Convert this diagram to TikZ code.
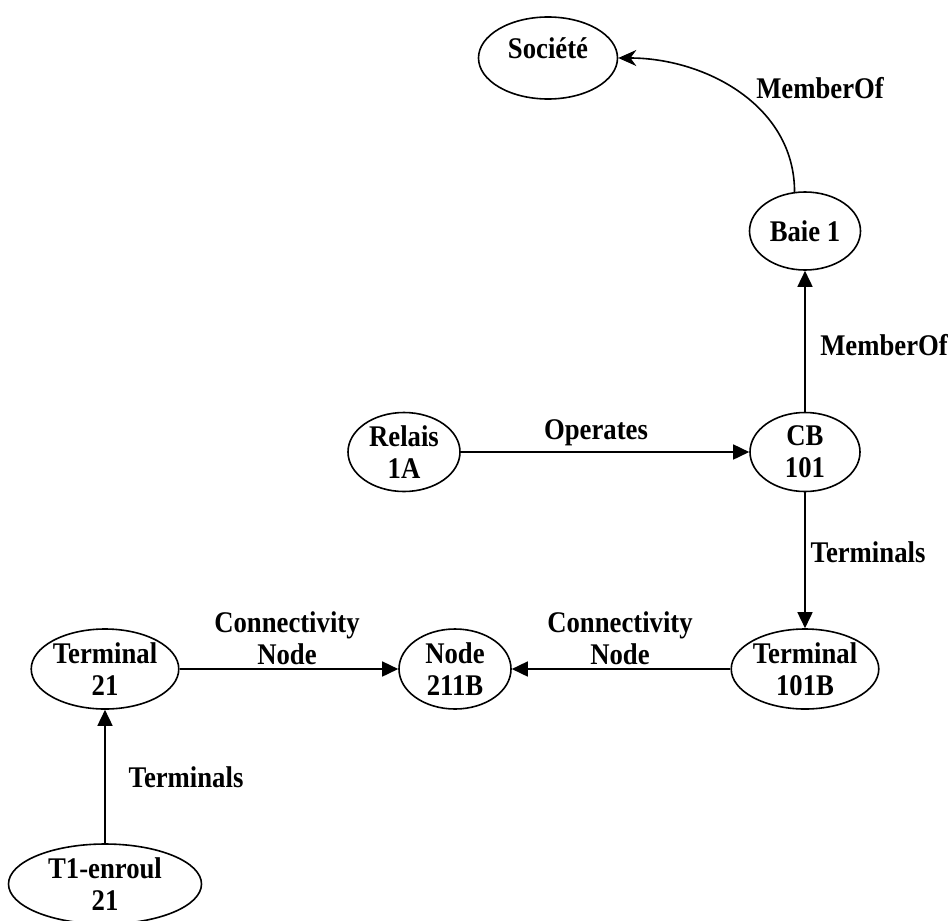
\documentclass[tikz,border=0pt]{standalone}
\usepackage{fontspec}
\setmainfont{Liberation Serif}[FakeStretch=0.89]
\usetikzlibrary{shapes.geometric,arrows.meta}

\tikzstyle{entity} = [draw, ellipse, line width=0.8pt, inner sep=0pt, align=center, font=\bfseries\fontsize{15}{16}\selectfont]
\tikzstyle{rel} = [align=center, font=\bfseries\fontsize{15}{16}\selectfont]
\tikzstyle{arrow} = [-{Triangle[length=8pt,width=7.5pt]}, line width=0.8pt]
\tikzstyle{curved} = [-{Stealth[length=9pt,width=8pt]}, line width=0.8pt]

\begin{document}
\begin{tikzpicture}[x=0.5pt, y=-0.5pt, ell/.style 2 args={minimum width=#1*0.5pt, minimum height=#2*0.5pt}]
  \useasboundingbox (0,0) rectangle (951,920);

  \node[entity, ell={139}{82}](societe) at (548,58) {Société\\[-6pt]\phantom{S}};
  \node[entity, ell={111}{78}](baie) at (805,231) {Baie 1};
  \node[entity, ell={110}{79}](cb) at (805,452) {CB\\101};
  \node[entity, ell={112}{79}](relais) at (404,452) {Relais\\1A};
  \node[entity, ell={138}{80}](term101) at (805,669) {Terminal\\101B};
  \node[entity, ell={112}{80}](node211) at (455,669) {Node\\211B};
  \node[entity, ell={141}{80}](term21) at (105,669) {Terminal\\21};
  \node[entity, ell={193}{80}](enroul) at (105,884) {T1-enroul\\21};

  \node[rel](member1) at (820,88) {MemberOf};
  \node[rel](member2) at (884,345) {MemberOf};
  \node[rel](operates) at (596,433) {Operates};
  \node[rel](terms1) at (868,552) {Terminals};
  \node[rel](conn1) at (287,638) {Connectivity\\Node};
  \node[rel](conn2) at (620,638) {Connectivity\\Node};
  \node[rel](terms2) at (186,777) {Terminals};

  \draw[curved] (baie.105) to[out=90, in=0] (societe.east);
  \draw[arrow] (cb) to (baie);
  \draw[arrow] (relais) to (cb);
  \draw[arrow] (cb) to (term101);
  \draw[arrow] (term101) to (node211);
  \draw[arrow] (term21) to (node211);
  \draw[arrow] (enroul) to (term21);

\end{tikzpicture}
\end{document}
